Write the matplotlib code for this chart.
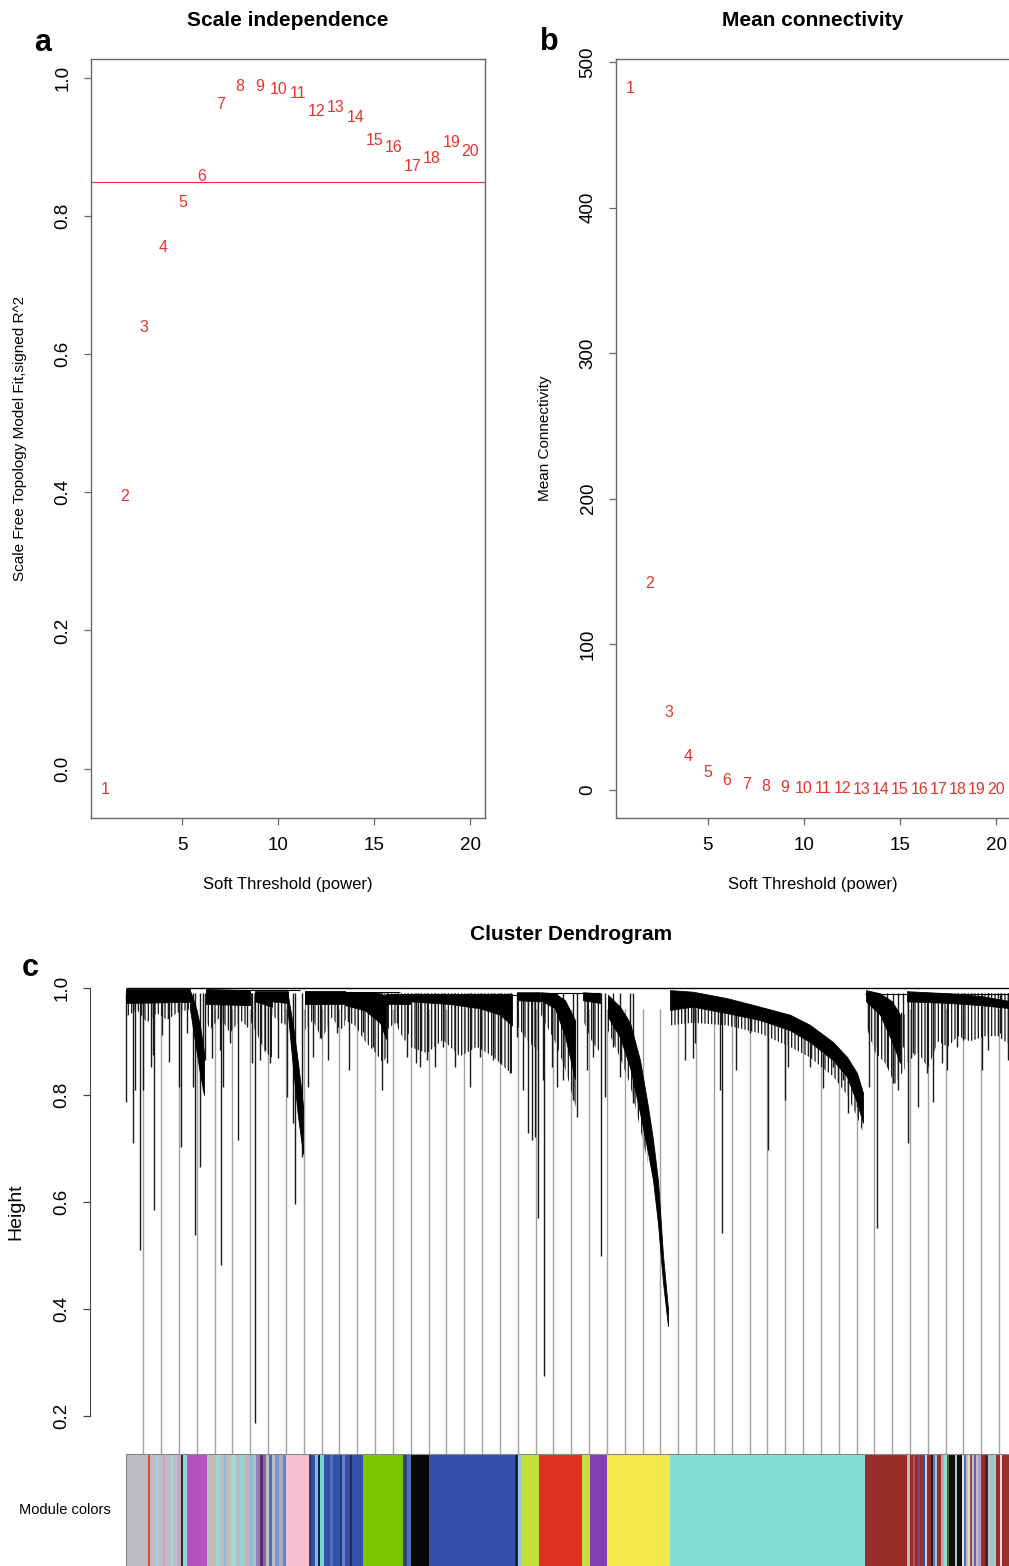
import numpy as np
import matplotlib
matplotlib.use("Agg")
import matplotlib.pyplot as plt

plt.rcParams['font.family'] = ['Liberation Sans', 'DejaVu Sans']
plt.rcParams['hatch.linewidth'] = 0.9

# ---------------- data ----------------
powers = list(range(1, 21))
sft_r2 = [-0.030, 0.394, 0.638, 0.755, 0.820, 0.857, 0.961, 0.987, 0.987, 0.984,
          0.978, 0.952, 0.957, 0.943, 0.910, 0.900, 0.872, 0.883, 0.907, 0.894]
r2_cut = 0.85
mean_k = [482, 141.5, 52.9, 23.0, 12.0, 6.5, 4.0, 2.5, 1.8, 1.2,
          0.9, 0.7, 0.5, 0.4, 0.3, 0.25, 0.2, 0.15, 0.12, 0.1]

# dendrogram (x = leaf order position)
root_h = 1.0
# solid branch masses: x, upper edge, lower edge (None separates masses)
mass_x   = [126, 190, None, 190, 195, 200, 204, None, 206, 250, None, 255, 272, None, 272, 288, None,
            288, 293, 298, 303, None, 305, 345, None, 345, 365, 380, 386, None, 386, 410, None,
            410, 450, 480, 500, 512, None, 517, 540, None, 541, 555, 565, 575, None, 583, 600, None,
            608, 620, 630, 640, 648, 653, 658, 663, 666, 668, None,
            670, 693, 727, 760, 790, 810, 833, 847, 857, 863, None,
            866, 880, 892, 900, None, 907, 950, 980, 1012]
mass_top = [0.998, 0.998, None, 0.995, 0.97, 0.93, 0.88, None, 0.998, 0.996, None, 0.994, 0.994, None, 0.994, 0.994, None,
            0.985, 0.93, 0.86, 0.78, None, 0.994, 0.994, None, 0.992, 0.992, 0.99, 0.985, None, 0.988, 0.988, None,
            0.989, 0.989, 0.989, 0.989, 0.989, None, 0.992, 0.992, None, 0.992, 0.990, 0.977, 0.940, None, 0.992, 0.99, None,
            0.987, 0.965, 0.935, 0.865, 0.778, 0.716, 0.64, 0.50, 0.44, 0.40, None,
            0.996, 0.993, 0.981, 0.965, 0.950, 0.931, 0.899, 0.871, 0.841, 0.804, None,
            0.996, 0.99, 0.975, 0.95, None, 0.994, 0.99, 0.985, 0.975]
mass_bot = [0.972, 0.974, None, 0.96, 0.90, 0.84, 0.80, None, 0.970, 0.968, None, 0.975, 0.965, None, 0.975, 0.972, None,
            0.95, 0.85, 0.76, 0.69, None, 0.970, 0.970, None, 0.968, 0.958, 0.935, 0.905, None, 0.970, 0.970, None,
            0.975, 0.970, 0.962, 0.950, 0.930, None, 0.977, 0.975, None, 0.977, 0.962, 0.91, 0.83, None, 0.977, 0.972, None,
            0.946, 0.908, 0.852, 0.766, 0.692, 0.641, 0.56, 0.45, 0.40, 0.368, None,
            0.959, 0.965, 0.953, 0.940, 0.921, 0.899, 0.865, 0.834, 0.785, 0.748, None,
            0.975, 0.95, 0.90, 0.86, None, 0.975, 0.972, 0.968, 0.962]

# dense fringes of short branches under the masses (None separates)
fringe_x   = [126, 137, 147, 157, 167, 177, 187, 192, None, 206, 210, 220, 230, 240, 248, None,
              250, 258, 265, 272, None, 272, 280, 288, None, 305, 313, 322, 332, 340, 345, None,
              345, 355, 365, 375, 383, 386, None, 386, 395, 405, 410, None,
              410, 427, 443, 460, 477, 493, 507, 512, None, 517, 528, 540, None,
              541, 555, 565, 577, None, 583, 592, 600, None, 608, 620, 630, 640, 648, None,
              670, 693, 727, 760, 790, 810, 833, 847, 857, 863, None,
              866, 875, 885, 895, 905, None, 907, 918, 928, 938, 948, 958, 970, 985, 998, 1012]
fringe_top = [0.99] * 8 + [None] + [0.99] * 6 + [None] + [0.99] * 4 + [None] + [0.99] * 3 + [None] + [0.99] * 6 + [None] + \
             [0.99] * 6 + [None] + [0.99] * 4 + [None] + [0.99] * 8 + [None] + [0.99] * 3 + [None] + \
             [0.99, 0.99, 0.97, 0.93, None, 0.99, 0.99, 0.99, None, 0.987, 0.965, 0.935, 0.865, 0.778, None,
              0.96, 0.965, 0.953, 0.94, 0.921, 0.899, 0.865, 0.834, 0.785, 0.748, None,
              0.99, 0.99, 0.98, 0.96, 0.95, None] + [0.99] * 10
fringe_bot = [0.946, 0.959, 0.935, 0.953, 0.940, 0.953, 0.959, 0.96, None, 0.94, 0.921, 0.946, 0.916, 0.94, 0.927, None,
              0.94, 0.91, 0.88, 0.87, None, 0.95, 0.935, 0.93, None, 0.921, 0.94, 0.903, 0.946, 0.921, 0.93, None,
              0.94, 0.93, 0.90, 0.88, 0.86, 0.87, None, 0.92, 0.935, 0.90, 0.92, None,
              0.89, 0.878, 0.903, 0.872, 0.89, 0.872, 0.847, 0.84, None, 0.93, 0.90, 0.88, None,
              0.95, 0.90, 0.85, 0.77, None, 0.94, 0.90, 0.88, None, 0.92, 0.87, 0.82, 0.74, 0.67, None,
              0.93, 0.935, 0.93, 0.915, 0.89, 0.87, 0.835, 0.80, 0.76, 0.73, None,
              0.93, 0.88, 0.86, 0.82, 0.85, None, 0.86, 0.88, 0.85, 0.90, 0.89, 0.91, 0.90, 0.91, 0.91, 0.89]

# individual branches hanging below the masses
drop_x = [126, 132.7, 135, 140, 142.7, 150.7, 153.3, 154, 161.7, 169.3, 179.3, 180.7, 186.7, 193.3, 195, 200,
          203.3, 205, 211.7, 220, 221.3, 223.3, 230, 238.3, 246.7, 251.7, 255, 260, 265, 270, 278.3, 286.7,
          293.3, 295, 301.7, 308.3, 312.7, 320, 328.3, 336.7, 349.3, 363.3, 373.3, 381.7, 386.7, 396.7,
          406.7, 416, 420, 426.7, 435, 443.3, 455, 470, 480, 493.3, 500, 510, 516.7, 523.3, 528.3, 531.7,
          535, 538.3, 544, 543.3, 551.7, 556.7, 563.3, 573.3, 576.7, 586.7, 593.3, 601, 605, 613.3, 620,
          630, 633.3, 671.7, 685, 693.3, 695, 721.7, 720, 736, 750, 768.3, 785, 788.3, 810, 823.3, 833.3,
          843.3, 848.3, 856.7, 869.3, 876.7, 877, 886.7, 893.3, 898.3, 903.3, 908.3, 913.3, 918.3, 926.7,
          933.3, 941.7, 946.7, 956.7, 963.3, 981.7, 988.3, 1000, 1008.3]
drop_bot = [0.787, 0.710, 0.809, 0.510, 0.809, 0.852, 0.875, 0.585, 0.912, 0.862, 0.815, 0.703, 0.916, 0.815, 0.538, 0.665,
            0.809, 0.865, 0.869, 0.884, 0.482, 0.815, 0.897, 0.716, 0.927, 0.860, 0.187, 0.865, 0.884, 0.860, 0.869, 0.796,
            0.748, 0.596, 0.684, 0.815, 0.871, 0.907, 0.865, 0.916, 0.847, 0.918, 0.890, 0.809, 0.860, 0.935,
            0.871, 0.860, 0.852, 0.865, 0.852, 0.890, 0.852, 0.815, 0.871, 0.865, 0.860, 0.841, 0.908, 0.809, 0.729, 0.716,
            0.721, 0.570, 0.275, 0.828, 0.852, 0.815, 0.828, 0.791, 0.759, 0.847, 0.871, 0.499, 0.796, 0.890, 0.834,
            0.852, 0.785, 0.959, 0.865, 0.869, 0.897, 0.542, 0.809, 0.847, 0.916, 0.697, 0.791, 0.852, 0.852, 0.813, 0.852,
            0.828, 0.766, 0.778, 0.815, 0.890, 0.551, 0.852, 0.822, 0.809, 0.890, 0.710, 0.879, 0.778, 0.841,
            0.787, 0.860, 0.847, 0.890, 0.903, 0.847, 0.884, 0.916, 0.865]

# horizontal merges: start, end, height
merge_x0 = [400, 517, 545, 865, 207, 305]
merge_x1 = [517, 545, 600, 1012, 300, 400]
merge_h  = [0.987, 0.985, 0.99, 0.989, 0.996, 0.993]

# evenly spaced leaf traces down to the colour bar
leaf_trace_first, leaf_trace_step, leaf_trace_n = 143.3, 17.83, 49

# module colour bar: segment boundaries and colours
module_breaks = [126, 148, 150, 156, 158, 163, 165, 171, 173, 178, 181, 183, 187, 207, 212, 213, 216, 220, 224, 226,
                 231, 236, 240, 244, 247, 250, 253, 256, 260, 263, 266, 269, 272, 275, 279, 283, 286, 309, 312, 315,
                 318, 320, 324, 330, 333, 340, 342, 345, 350, 352, 363, 403, 407, 411, 429, 515, 518, 521, 539, 582,
                 590, 607, 670, 865, 907, 910, 913, 915, 918, 920, 923, 925, 927, 931, 933, 935, 937, 941, 944, 947,
                 949, 955, 957, 962, 964, 966, 968, 970, 972, 974, 976, 978, 981, 985, 988, 991, 993, 996, 1000, 1002,
                 1012]
GR, BR = '#bdbcc0', '#982e2a'
module_colors = [GR, '#e04a3a', GR, '#a8cfe0', GR, '#c7a3c9', GR, '#9fd8d8', GR, '#c0a8c8', '#2a2a2a', '#93d3d3',
                 '#b552c0', GR, '#d9b48a', GR, '#9ed5d3', GR, '#8fb8e0', GR, '#a3dcd6', GR, '#8fd6d6', GR, '#c8a8d8',
                 '#80c8c8', GR, '#9a7ab8', '#5a2f6a', '#9060a0', GR, '#4a70b8', GR, '#6e9ad0', '#a8a8c4', '#5c88c8',
                 '#f8c0d0', '#3d3d6e', '#3550a6', '#7cc0e0', '#1e1e4c', '#74d4d0', '#3450a8', '#5272c0', '#3450a8',
                 '#1f3b80', '#6280c2', '#3450a8', '#1e2e5e', '#3450a8', '#7bc500', '#2f3f80', '#5070b0', '#080806',
                 '#3350a8', '#142040', '#92c8e0', '#c3e03a', '#e0301f', '#c3e03a', '#8240b3', '#f3e74a', '#84ddd5',
                 BR, GR, BR, '#c85050', BR, '#6a4ca0', BR, '#3450a8', '#d0d0d0', BR, '#202020', '#5080d0', GR, BR,
                 '#c4a0b0', '#90e0d0', '#60602e', '#101010', '#c0c0c0', '#101010', '#e4e4cc', '#4070d0', GR, '#e0e0a0',
                 '#a04050', GR, '#6060c0', GR, '#b4a0c4', BR, '#303030', GR, '#80d0d0', GR, BR, '#e0e0e0', BR]

# ---------------- layout helpers ----------------
W, H = 1009, 1566
fig = plt.figure(figsize=(W / 100, H / 100), dpi=100)
fig.patch.set_facecolor('white')

def rect(l, t, r, b):
    return [l / W, 1 - b / H, (r - l) / W, (b - t) / H]

def ftext(x, y, s, **kw):
    fig.text(x / W, 1 - y / H, s, ha='center', va='center', **kw)

RED = '#e8332a'
SPC = '#666666'

def style_r(ax):
    for s in ax.spines.values():
        s.set_color(SPC)
        s.set_linewidth(1.0)
    ax.tick_params(direction='out', length=5, width=0.9, color=SPC, labelsize=13.5, pad=9)
    for lab in ax.get_yticklabels():
        lab.set_rotation(90)
        lab.set_va('center')

# ---------------- panel a ----------------
axa = fig.add_axes(rect(91, 59, 485, 818))
axa.set_xlim(0.24, 20.76)
axa.set_ylim(-0.0715, 1.0275)
for p, v in zip(powers, sft_r2):
    axa.text(p, v, str(p), color=RED, fontsize=11.5, ha='center', va='center')
axa.axhline(r2_cut, color=RED, lw=0.8)
axa.set_xticks([5, 10, 15, 20])
axa.set_yticks([0.0, 0.2, 0.4, 0.6, 0.8, 1.0])
axa.set_yticklabels(['0.0', '0.2', '0.4', '0.6', '0.8', '1.0'])
style_r(axa)

# ---------------- panel b ----------------
axb = fig.add_axes(rect(616, 59, 1011, 818))
axb.set_xlim(0.24, 20.76)
axb.set_ylim(-19.3, 502)
for p, v in zip(powers, mean_k):
    axb.text(p, v, str(p), color=RED, fontsize=11.5, ha='center', va='center')
axb.set_xticks([5, 10, 15, 20])
axb.set_yticks([0, 100, 200, 300, 400, 500])
style_r(axb)

ftext(288, 21, 'Scale independence', fontsize=15, fontweight='bold')
ftext(813, 21, 'Mean connectivity', fontsize=15, fontweight='bold')
ftext(288, 885, 'Soft Threshold (power)', fontsize=12)
ftext(813, 885, 'Soft Threshold (power)', fontsize=12)
ftext(20, 438, 'Scale Free Topology Model Fit,signed R^2', fontsize=11, rotation=90)
ftext(545, 438, 'Mean Connectivity', fontsize=11, rotation=90)
ftext(43, 43, 'a', fontsize=22, fontweight='bold')
ftext(549, 42, 'b', fontsize=22, fontweight='bold')

# ---------------- panel c: dendrogram ----------------
axd = fig.add_axes(rect(90, 970, 1012, 1454))
axd.set_xlim(90, 1012)
axd.set_ylim(0.129, 1.0336)
for s in ['top', 'right', 'bottom']:
    axd.spines[s].set_visible(False)
axd.spines['left'].set_bounds(0.2, 1.0)
axd.spines['left'].set_color('#444444')
axd.set_xticks([])
axd.set_yticks([0.2, 0.4, 0.6, 0.8, 1.0])
axd.tick_params(axis='y', direction='out', length=5, width=0.9, color='#444444', labelsize=13.5, pad=9)
for lab in axd.get_yticklabels():
    lab.set_rotation(90)
    lab.set_va('center')

def split(*cols):
    out, cur = [], []
    for row in zip(*cols):
        if row[0] is None:
            out.append(cur)
            cur = []
        else:
            cur.append(row)
    out.append(cur)
    return out

blocks = split(mass_x, mass_top, mass_bot)
fringes = split(fringe_x, fringe_top, fringe_bot)

k_block = [bl for bl in blocks if bl[0][0] == 670][0]
kx = [p[0] for p in k_block]
kb = [p[2] for p in k_block]

def hang_top(x):
    return float(np.interp(x, kx, kb)) if kx[0] <= x <= kx[-1] else 0.99

# leaf traces
traces = leaf_trace_first + leaf_trace_step * np.arange(leaf_trace_n)
axd.vlines(traces, 0.129, [min(hang_top(t), 0.96) for t in traces], color='#a2a2a2', lw=1.0, zorder=1)

for fr in fringes:
    xs = [p[0] for p in fr]
    axd.fill_between(xs, [p[2] for p in fr], [p[1] for p in fr], facecolor='none',
                     edgecolor='#151515', hatch='|||||', linewidth=0, zorder=2)

for bl in blocks:
    xs = [p[0] for p in bl]
    axd.fill_between(xs, [p[2] for p in bl], [p[1] for p in bl], color='black', lw=0.6, zorder=3)

axd.vlines(drop_x, drop_bot, [hang_top(x) for x in drop_x], color='#1a1a1a', lw=1.0, zorder=2)
axd.hlines(merge_h, merge_x0, merge_x1, color='black', lw=0.8, zorder=3)
axd.hlines(root_h, 126, 1012, color='black', lw=1.0, zorder=3)

# colour bar
axc = fig.add_axes(rect(126, 1454, 1012, 1566))
axc.set_xlim(126, 1012)
axc.set_ylim(0, 1)
lefts = module_breaks[:-1]
widths = [b - a for a, b in zip(module_breaks[:-1], module_breaks[1:])]
axc.bar(lefts, [1] * len(lefts), width=widths, align='edge', color=module_colors, linewidth=0)
for s in ['right', 'bottom']:
    axc.spines[s].set_visible(False)
for s in ['top', 'left']:
    axc.spines[s].set_color('#888888')
    axc.spines[s].set_linewidth(0.8)
axc.set_xticks([])
axc.set_yticks([])

ftext(571, 935, 'Cluster Dendrogram', fontsize=15, fontweight='bold')
ftext(16, 1212, 'Height', fontsize=14, rotation=90)
ftext(65, 1510, 'Module colors', fontsize=10.5)
ftext(30, 968, 'c', fontsize=22, fontweight='bold')

fig.savefig('out.png', dpi=100)
